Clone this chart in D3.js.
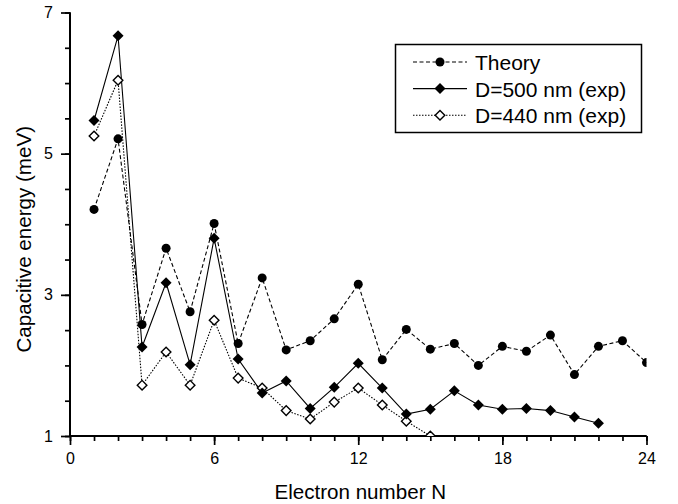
<!DOCTYPE html>
<html>
<head>
<meta charset="utf-8">
<script src="https://cdn.jsdelivr.net/npm/d3@7"></script>
<style>
  html, body { margin: 0; padding: 0; background: #fff; }
  svg { display: block; font-family: "Liberation Sans", Arial, Helvetica, sans-serif; }
</style>
</head>
<body>
<svg id="chart" width="678" height="504"></svg>
<script>
// ---- data ----
const electronsTheory = d3.range(1, 25);
const theory = [4.21, 5.21, 2.58, 3.66, 2.76, 4.01, 2.31, 3.24, 2.22, 2.35, 2.66, 3.15,
                2.08, 2.51, 2.23, 2.31, 2.00, 2.27, 2.20, 2.43, 1.87, 2.27, 2.35, 2.04];
const electrons500 = d3.range(1, 23);
const d500 = [5.47, 6.67, 2.26, 3.17, 2.01, 3.80, 2.09, 1.61, 1.78, 1.39, 1.69, 2.03,
              1.68, 1.31, 1.38, 1.64, 1.44, 1.38, 1.39, 1.36, 1.27, 1.18];
const electrons440 = d3.range(1, 16);
const d440 = [5.25, 6.04, 1.72, 2.19, 1.72, 2.64, 1.82, 1.68, 1.36, 1.24, 1.48, 1.68,
              1.44, 1.21, 1.00];
const xTicksMajor = [0, 6, 12, 18, 24];
const yTicksMajor = [1, 3, 5, 7];
const seriesNames = ["Theory", "D=500 nm (exp)", "D=440 nm (exp)"];

// ---- layout ----
const svg = d3.select("#chart");
const x = d3.scaleLinear().domain([0, 24]).range([70, 646.5]);
const y = d3.scaleLinear().domain([1, 7]).range([436, 12.5]);

svg.append("defs").append("clipPath").attr("id", "plotclip")
  .append("rect").attr("x", x(0)).attr("y", y(7)).attr("width", x(24) - x(0)).attr("height", y(1) - y(7));

const xMinor = d3.axisBottom(x).tickValues(d3.range(0, 25, 1)).tickSize(5).tickFormat("");
const xMajor = d3.axisBottom(x).tickValues(xTicksMajor).tickSize(9).tickPadding(8).tickFormat(d3.format("d"));
const yMinor = d3.axisLeft(y).tickValues(d3.range(1, 7.01, 0.5)).tickSize(5).tickFormat("");
const yMajor = d3.axisLeft(y).tickValues(yTicksMajor).tickSize(9).tickPadding(8).tickFormat(d3.format("d"));

function styleAxis(g) {
  g.select(".domain").attr("stroke", "#000").attr("stroke-width", 2);
  g.selectAll(".tick line").attr("stroke", "#000").attr("stroke-width", 1.7);
  g.selectAll(".tick text").attr("fill", "#000").style("font-size", "16px")
    .style("font-family", "'Liberation Sans', Arial, sans-serif");
}
const gx1 = svg.append("g").attr("transform", `translate(0,${y(1)})`).call(xMinor).call(styleAxis);
const gx2 = svg.append("g").attr("transform", `translate(0,${y(1)})`).call(xMajor).call(styleAxis);
const gy1 = svg.append("g").attr("transform", `translate(${x(0)},0)`).call(yMinor).call(styleAxis);
const gy2 = svg.append("g").attr("transform", `translate(${x(0)},0)`).call(yMajor).call(styleAxis);
[gx1, gx2].forEach(g => g.select(".domain").attr("d", `M${x(0)},0H${x(24)}`));
[gy1, gy2].forEach(g => g.select(".domain").attr("d", `M0,${y(7)}V${y(1)}`));

// axis titles
svg.append("text").attr("x", (x(0) + x(24)) / 2 + 2).attr("y", 499)
  .attr("text-anchor", "middle").style("font-size", "20.6px").text("Electron number N");
svg.append("text").attr("transform", `translate(31,${(y(1) + y(7)) / 2 + 15}) rotate(-90)`)
  .attr("text-anchor", "middle").style("font-size", "20.6px").text("Capacitive energy (meV)");

// ---- series ----
const plot = svg.append("g").attr("clip-path", "url(#plotclip)");
const line = d3.line().x(d => x(d[0])).y(d => y(d[1]));
const zip = (a, b) => a.map((v, i) => [v, b[i]]);

const specs = [
  { name: seriesNames[0], data: zip(electronsTheory, theory), dash: "4,2.5", marker: "circle" },
  { name: seriesNames[2], data: zip(electrons440, d440), dash: "1.5,1.5", marker: "open" },
  { name: seriesNames[1], data: zip(electrons500, d500), dash: null, marker: "diamond" }
];

const diamondPath = (cx, cy, r) => `M${cx},${cy - r}L${cx + r},${cy}L${cx},${cy + r}L${cx - r},${cy}Z`;

function drawMarker(g, cx, cy, type) {
  if (type === "circle") {
    g.append("circle").attr("cx", cx).attr("cy", cy).attr("r", 4.5).attr("fill", "#000");
  } else if (type === "diamond") {
    g.append("path").attr("d", diamondPath(cx, cy, 5.5)).attr("fill", "#000");
  } else {
    g.append("path").attr("d", diamondPath(cx, cy, 4.8)).attr("fill", "#fff")
      .attr("stroke", "#000").attr("stroke-width", 1.4);
  }
}

specs.forEach(s => {
  plot.append("path").datum(s.data).attr("d", line).attr("fill", "none")
    .attr("stroke", "#000").attr("stroke-width", 1.1)
    .attr("stroke-dasharray", s.dash);
});
specs.forEach(s => {
  const g = plot.append("g");
  s.data.forEach(d => drawMarker(g, x(d[0]), y(d[1]), s.marker));
});

// ---- legend ----
const lg = svg.append("g");
lg.append("rect").attr("x", 395.5).attr("y", 44.5).attr("width", 246).attr("height", 88)
  .attr("fill", "#fff").attr("stroke", "#000").attr("stroke-width", 1.5);
const legendOrder = [
  { name: seriesNames[0], dash: "4,2.5", marker: "circle" },
  { name: seriesNames[1], dash: null, marker: "diamond" },
  { name: seriesNames[2], dash: "1.5,1.5", marker: "open" }
];
legendOrder.forEach((s, i) => {
  const cy = 62 + i * 26.6;
  lg.append("line").attr("x1", 413).attr("x2", 467).attr("y1", cy).attr("y2", cy)
    .attr("stroke", "#000").attr("stroke-width", 1.1).attr("stroke-dasharray", s.dash);
  drawMarker(lg, 440, cy, s.marker);
  lg.append("text").attr("x", 475).attr("y", cy + 8).style("font-size", "21px").text(s.name);
});
</script>
</body>
</html>
